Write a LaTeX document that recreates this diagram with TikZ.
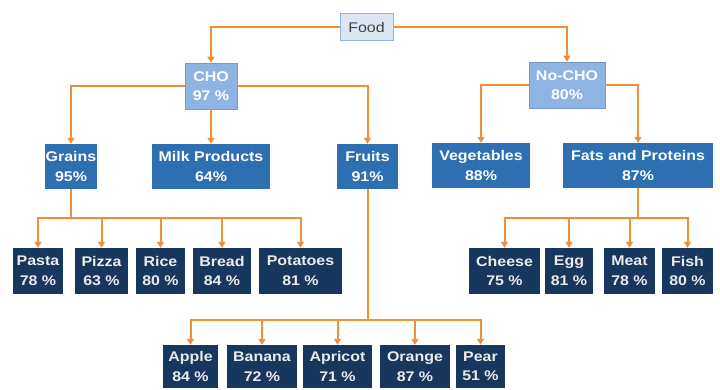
\documentclass[tikz,border=0pt]{standalone}
\usepackage{fontspec}
\setmainfont{Liberation Sans}[FakeStretch=1.14]
\usetikzlibrary{arrows.meta}
\definecolor{conn}{HTML}{EF9038}
\definecolor{lightb}{HTML}{8DB4E2}
\definecolor{foodfill}{HTML}{DCE6F2}
\definecolor{foodline}{HTML}{95B3D7}
\definecolor{midb}{HTML}{2D6FB0}
\definecolor{darkb}{HTML}{17375E}
\tikzset{
  box/.style={rectangle, inner sep=0pt, align=center, font=\fontsize{14}{19.5}\selectfont\bfseries},
  foodbox/.style={box, fill=foodfill, draw=foodline, line width=1pt, text=black!75, font=\fontsize{14}{19.5}\selectfont},
  lvlone/.style={box, fill=lightb, draw=lightb!85!black, line width=0.5pt, text=white},
  lvltwo/.style={box, fill=midb, text=white},
  lvlthree/.style={box, fill=darkb, text=white!92!black},
  conline/.style={draw=conn, line width=2pt},
  conarrow/.style={conline, -{Triangle[length=6pt,width=7pt]}}
}
\begin{document}
\begin{tikzpicture}[x=1pt,y=-1pt]
\useasboundingbox (0,0) rectangle (720,390);
% level 0
\node[foodbox, minimum width=53pt, minimum height=27pt] (food) at (366.5,27.5) {Food};
% level 1
\node[lvlone, minimum width=52pt, minimum height=46pt] (cho) at (211,86) {CHO\\97 \%};
\node[lvlone, minimum width=76pt, minimum height=46pt] (nocho) at (567,85) {No-CHO\\80\%};
% level 2
\node[lvltwo, minimum width=52pt, minimum height=45pt] (grains) at (71,166.5) {Grains\\95\%};
\node[lvltwo, minimum width=118pt, minimum height=45pt] (milk) at (211,166.5) {Milk Products\\64\%};
\node[lvltwo, minimum width=61pt, minimum height=45pt] (fruits) at (367.5,166.5) {Fruits\\91\%};
\node[lvltwo, minimum width=98pt, minimum height=45pt] (veg) at (481,165.5) {Vegetables\\88\%};
\node[lvltwo, minimum width=150pt, minimum height=45pt] (fats) at (638,165.5) {Fats and Proteins\\87\%};
% level 3
\node[lvlthree, minimum width=50pt, minimum height=46pt] (pasta) at (38,271) {Pasta\\78 \%};
\node[lvlthree, minimum width=53pt, minimum height=46pt] (pizza) at (101.5,271) {Pizza\\63 \%};
\node[lvlthree, minimum width=49pt, minimum height=46pt] (rice) at (160.5,271) {Rice\\80 \%};
\node[lvlthree, minimum width=58pt, minimum height=46pt] (bread) at (222,271) {Bread\\84 \%};
\node[lvlthree, minimum width=83pt, minimum height=46pt] (potatoes) at (300.5,271) {Potatoes\\81 \%};
\node[lvlthree, minimum width=71pt, minimum height=46pt] (cheese) at (504.5,271) {Cheese\\75 \%};
\node[lvlthree, minimum width=48pt, minimum height=46pt] (egg) at (569,271) {Egg\\81 \%};
\node[lvlthree, minimum width=51pt, minimum height=46pt] (meat) at (629.5,271) {Meat\\78 \%};
\node[lvlthree, minimum width=51pt, minimum height=46pt] (fish) at (687.5,271) {Fish\\80 \%};
% level 4
\node[lvlthree, minimum width=55pt, minimum height=43pt] (apple) at (190.5,366.5) {Apple\\84 \%};
\node[lvlthree, minimum width=70pt, minimum height=43pt] (banana) at (262,366.5) {Banana\\72 \%};
\node[lvlthree, minimum width=69pt, minimum height=43pt] (apricot) at (337.5,366.5) {Apricot\\71 \%};
\node[lvlthree, minimum width=70pt, minimum height=43pt] (orange) at (415,366.5) {Orange\\87 \%};
\node[lvlthree, minimum width=49pt, minimum height=43pt] (pear) at (480.5,366.5) {Pear\\51 \%};
% connectors level 0 -> 1
\draw[conarrow] (food.west) -| (cho.north);
\draw[conarrow] (food.east) -| (nocho.north);
% level 1 -> 2
\draw[conarrow] (cho.west) -| (grains.north);
\draw[conarrow] (cho.south) -- (milk.north);
\draw[conarrow] (cho.east) -| (fruits.north);
\draw[conarrow] (nocho.west) -| (veg.north);
\draw[conarrow] (nocho.east) -| (fats.north);
% buses
\coordinate (gbus) at (71,218);
\coordinate (fbus) at (638,218);
\coordinate (rbus) at (367.5,320);
\draw[conline] (grains.south) -- (gbus);
\draw[conline, line cap=rect] (pasta.north |- gbus) -- (potatoes.north |- gbus);
\foreach \c in {pasta,pizza,rice,bread,potatoes}
  \draw[conarrow] (\c.north |- gbus) -- (\c.north);
\draw[conline] (fats.south) -- (fbus);
\draw[conline, line cap=rect] (cheese.north |- fbus) -- (fish.north |- fbus);
\foreach \c in {cheese,egg,meat,fish}
  \draw[conarrow] (\c.north |- fbus) -- (\c.north);
\draw[conline] (fruits.south) -- (rbus);
\draw[conline, line cap=rect] (apple.north |- rbus) -- (pear.north |- rbus);
\foreach \c in {apple,banana,apricot,orange,pear}
  \draw[conarrow] (\c.north |- rbus) -- (\c.north);
\end{tikzpicture}
\end{document}
